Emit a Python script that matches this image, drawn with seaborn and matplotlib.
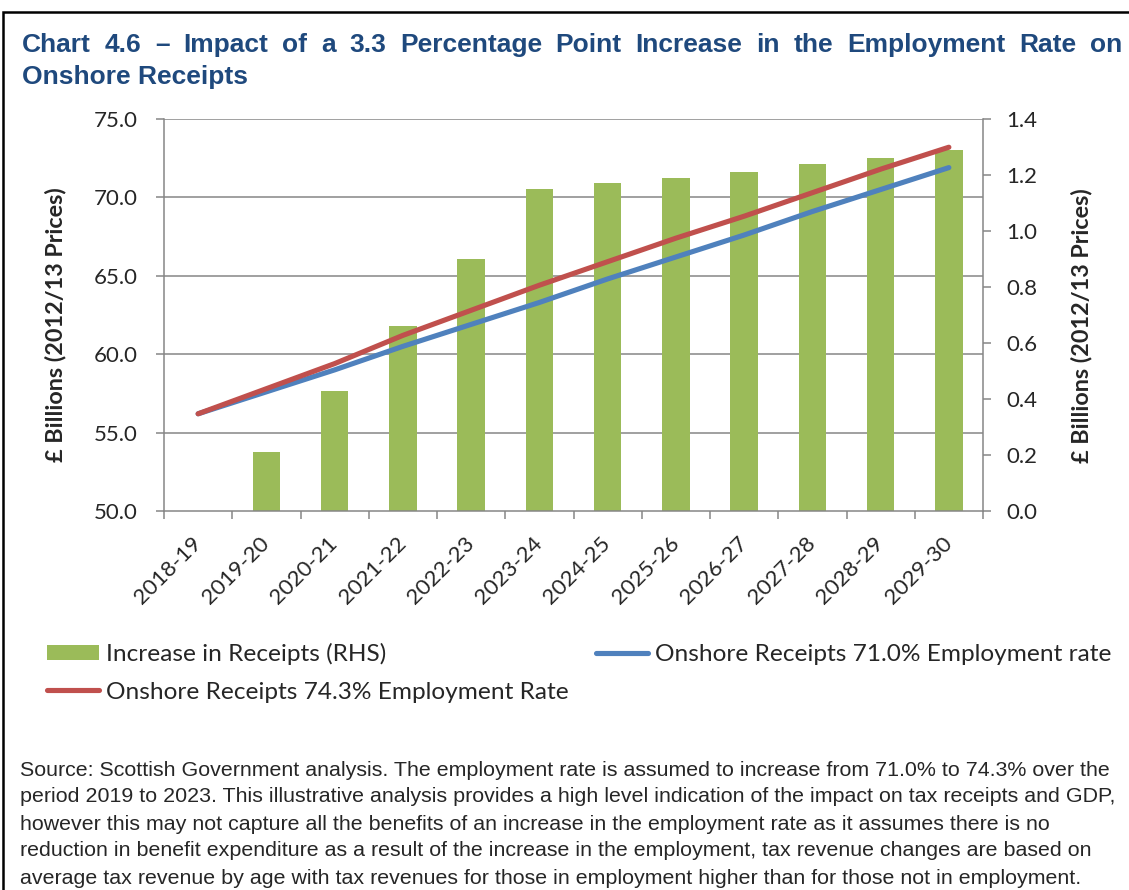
import numpy as np
import pandas as pd
import matplotlib
matplotlib.use("Agg")
import matplotlib.pyplot as plt
import seaborn as sns
from matplotlib.patches import Rectangle
from matplotlib.lines import Line2D
from matplotlib.transforms import blended_transform_factory, ScaledTranslation

# ---- data -------------------------------------------------------------
years = ["2018-19", "2019-20", "2020-21", "2021-22", "2022-23", "2023-24",
         "2024-25", "2025-26", "2026-27", "2027-28", "2028-29", "2029-30"]
increase_rhs = [0.00, 0.21, 0.43, 0.66, 0.90, 1.15, 1.17, 1.19, 1.21, 1.24, 1.26, 1.29]
receipts_710 = [56.2, 57.6, 59.0, 60.5, 61.9, 63.3, 64.8, 66.2, 67.6, 69.1, 70.5, 71.9]
receipts_743 = [56.2, 57.8, 59.4, 61.2, 62.8, 64.4, 65.9, 67.4, 68.8, 70.3, 71.8, 73.2]

left_ticks = [50, 55, 60, 65, 70, 75]
right_ticks = [0.0, 0.2, 0.4, 0.6, 0.8, 1.0, 1.2, 1.4]

title_line1 = "Chart 4.6 \u2013 Impact of a 3.3 Percentage Point Increase in the Employment Rate on"
title_line2 = "Onshore Receipts"
y_label = "\u00a3 Billions (2012/13 Prices)"
legend_labels = ["Increase in Receipts (RHS)",
                 "Onshore Receipts 74.3% Employment Rate",
                 "Onshore Receipts 71.0% Employment rate"]
source_lines = [
    "Source: Scottish Government analysis. The employment rate is assumed to increase from 71.0% to 74.3% over the",
    "period 2019 to 2023. This illustrative analysis provides a high level indication of the impact on tax receipts and GDP,",
    "however this may not capture all the benefits of an increase in the employment rate as it assumes there is no",
    "reduction in benefit expenditure as a result of the increase in the employment, tax revenue changes are based on",
    "average tax revenue by age with tax revenues for those in employment higher than for those not in employment.",
]

# ---- style --------------------------------------------------------------
GREEN = "#9BBB59"
BLUE = "#4F81BD"
RED = "#C0504D"
GREY = "#868686"
NAVY = "#1F497D"

sns.set_style("white")
plt.rcParams["font.family"] = ["Lato", "DejaVu Sans"]

W, H = 1129, 890
fig = plt.figure(figsize=(W / 100, H / 100), dpi=100)
renderer = fig.canvas.get_renderer()


def text_width(text, size, family, weight="normal"):
    t = fig.text(0, 0, text, fontsize=size, family=family, weight=weight)
    w = t.get_window_extent(renderer).width
    t.remove()
    return w


def fit_size(text, target_px, family, weight="normal", base=20.0):
    return base * target_px / text_width(text, base, family, weight)


# plot area in pixels: x 164..983, y 119..511
ax_l = fig.add_axes([164 / W, 1 - 511 / H, 819 / W, 392 / H])
ax_r = ax_l.twinx()
ax_l.set_zorder(2)
ax_l.patch.set_visible(False)
ax_r.set_zorder(1)

df = pd.DataFrame({"Year": years, "Increase": increase_rhs,
                   "R710": receipts_710, "R743": receipts_743})

# bars on the right-hand axis
sns.barplot(data=df, x="Year", y="Increase", ax=ax_r, color=GREEN,
            saturation=1, width=0.4, errorbar=None, zorder=2, linewidth=0)

# horizontal gridlines follow the left-hand scale, drawn beneath the bars
grid_tr = blended_transform_factory(ax_r.transAxes, ax_l.transData)
for v in left_ticks[1:]:
    ax_r.add_line(Line2D([0, 1], [v, v], transform=grid_tr, color=GREY,
                         lw=1.1, zorder=0.5))

# receipts lines on the left-hand axis
sns.lineplot(data=df, x="Year", y="R710", ax=ax_l, color=BLUE, lw=3.7,
             sort=False, solid_capstyle="round")
sns.lineplot(data=df, x="Year", y="R743", ax=ax_l, color=RED, lw=3.7,
             sort=False, solid_capstyle="round")

n = len(years)
ax_l.set_xlim(-0.5, n - 0.5)
ax_l.set_ylim(left_ticks[0], left_ticks[-1])
ax_r.set_ylim(right_ticks[0], right_ticks[-1])

tick_fs = 16
ax_l.set_yticks(left_ticks)
ax_l.set_yticklabels([f"{v:.1f}" for v in left_ticks], fontsize=tick_fs)
ax_r.set_yticks(right_ticks)
ax_r.set_yticklabels([f"{v:.1f}" for v in right_ticks], fontsize=tick_fs)

ax_l.set_xticks(np.arange(n))
ax_l.set_xticklabels(years, rotation=45, ha="right", va="center",
                     rotation_mode="anchor", fontsize=tick_fs)
ax_l.set_xticks(np.arange(n + 1) - 0.5, minor=True)
offset = ScaledTranslation(10 / 100, 0, fig.dpi_scale_trans)
for lab in ax_l.get_xticklabels():
    lab.set_transform(lab.get_transform() + offset)

ax_l.tick_params(axis="x", which="major", length=0, pad=21)
ax_l.tick_params(axis="x", which="minor", length=6, width=1.1, color=GREY,
                 direction="out", bottom=True)
ax_l.tick_params(axis="y", left=True, length=6, width=1.1, color=GREY,
                 direction="out", pad=13)
ax_r.tick_params(axis="y", right=True, length=6, width=1.1, color=GREY,
                 direction="out", pad=11)

ax_l.set_xlabel("")
ax_l.set_ylabel("")
ax_r.set_ylabel("")

for name, sp in ax_l.spines.items():
    sp.set_visible(name in ("left", "bottom"))
    sp.set_color(GREY)
    sp.set_linewidth(1.1)
for name, sp in ax_r.spines.items():
    sp.set_visible(name == "right")
    sp.set_color(GREY)
    sp.set_linewidth(1.1)

# axis titles
lab_fs = fit_size(y_label, 275, "Lato", "bold")
fig.text(55 / W, 1 - 325 / H, y_label, rotation=90, ha="center", va="center",
         fontsize=lab_fs, weight="bold")
fig.text(1081 / W, 1 - 326 / H, y_label, rotation=90, ha="center", va="center",
         fontsize=lab_fs, weight="bold")

# chart title: first line justified across the full width
title_fs = fit_size(title_line2, 226, "Liberation Sans", "bold")
title_kw = dict(fontsize=title_fs, weight="bold", family="Liberation Sans",
                color=NAVY, va="center", ha="left")
words = title_line1.split(" ")
word_w = [text_width(w, title_fs, "Liberation Sans", "bold") for w in words]
x0, x1 = 22.0, 1122.0
gap = (x1 - x0 - sum(word_w)) / (len(words) - 1)
x = x0
for w, ww in zip(words, word_w):
    fig.text(x / W, 1 - 45 / H, w, **title_kw)
    x += ww + gap
fig.text(x0 / W, 1 - 77 / H, title_line2, **title_kw)

# legend
leg_fs = fit_size(legend_labels[2], 455, "Lato")
px = leg_fs * 100 / 72
handles = [ax_r.containers[0], ax_l.lines[1], ax_l.lines[0]]
fig.legend(handles=handles, labels=legend_labels, ncol=2, loc="upper left",
           bbox_to_anchor=(47 / W, 1 - 643 / H), frameon=False,
           prop={"family": "Lato", "size": leg_fs},
           handlelength=52 / px, handleheight=15 / px, handletextpad=7 / px,
           columnspacing=27 / px, labelspacing=0.68, borderpad=0,
           borderaxespad=0)

# source note
src_fs = fit_size(source_lines[1], 1093, "Liberation Sans")
for i, line in enumerate(source_lines):
    fig.text(20 / W, 1 - (770 + 27 * i) / H, line, fontsize=src_fs,
             family="Liberation Sans", va="center", ha="left")

# outer frame
fig.patches.append(Rectangle((3 / W, -0.1), 2.0, 1 - 12 / H + 0.1,
                             transform=fig.transFigure, fill=False,
                             edgecolor="black", lw=1.8))

fig.savefig("out.png", dpi=100)
